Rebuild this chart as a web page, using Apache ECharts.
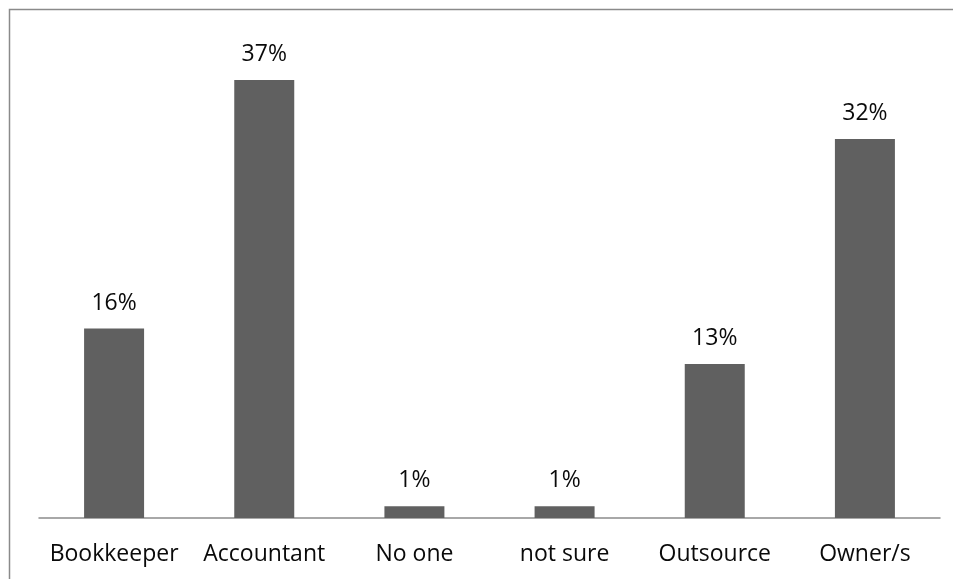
<!DOCTYPE html>
<html>
<head>
<meta charset="utf-8">
<script src="https://cdn.jsdelivr.net/npm/echarts@6/dist/echarts.min.js"></script>
<style>
  html, body { margin: 0; padding: 0; background: #fff; }
  #chart { width: 953px; height: 579px; }
</style>
</head>
<body>
<div id="chart"></div>
<script>
// Who handles the books: share of respondents per answer
const categories = ['Bookkeeper', 'Accountant', 'No one', 'not sure', 'Outsource', 'Owner/s'];
const shares = [16, 37, 1, 1, 13, 32];

const chart = echarts.init(document.getElementById('chart'), null, { renderer: 'canvas' });

chart.setOption({
  backgroundColor: '#ffffff',
  animation: false,
  textStyle: { fontFamily: 'Open Sans' },
  graphic: [{
    type: 'rect',
    shape: { x: 9.5, y: 9.5, width: 1000, height: 1000 },
    style: { fill: 'none', stroke: '#8a8a8a', lineWidth: 1.5 },
    silent: true
  }],
  grid: { left: 39, right: 13, top: 44.4, bottom: 61, containLabel: false },
  xAxis: {
    type: 'category',
    data: categories,
    axisLine: { show: true, lineStyle: { color: '#8c8c8c', width: 1.5 } },
    axisTick: { show: false },
    axisLabel: {
      color: '#0a0a0a',
      fontFamily: 'Open Sans',
      fontSize: 23,
      margin: 25,
      interval: 0
    }
  },
  yAxis: {
    type: 'value',
    min: 0,
    max: 40,
    show: false,
    splitLine: { show: false }
  },
  series: [{
    type: 'bar',
    data: shares,
    barWidth: 60,
    itemStyle: { color: '#606060' },
    label: {
      show: true,
      position: 'top',
      distance: 14,
      formatter: '{c}%',
      color: '#0a0a0a',
      fontFamily: 'Open Sans',
      fontSize: 23
    }
  }]
});
</script>
</body>
</html>
